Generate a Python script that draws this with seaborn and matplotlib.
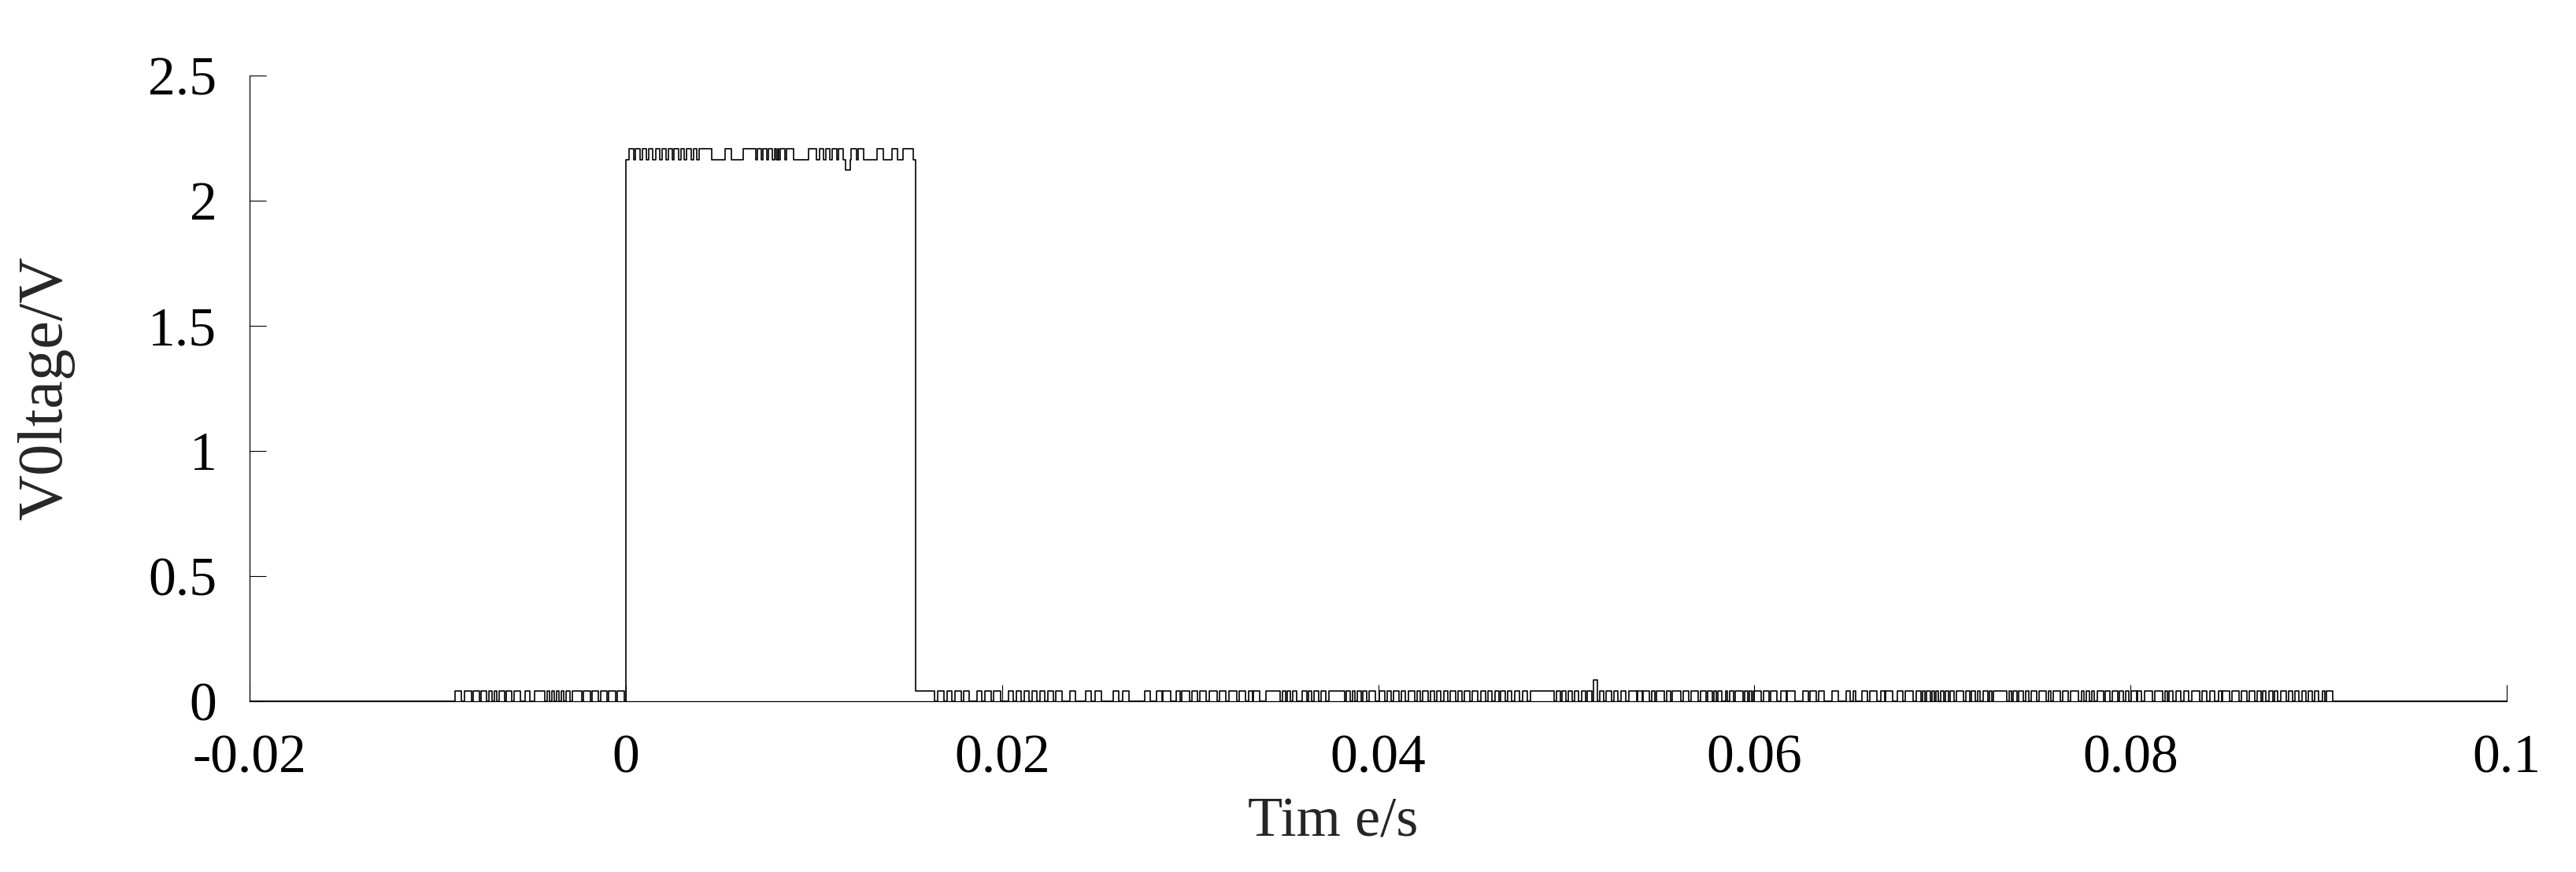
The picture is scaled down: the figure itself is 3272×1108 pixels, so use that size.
import pandas as pd
import matplotlib
matplotlib.use("Agg")
import matplotlib.pyplot as plt
import seaborn as sns

# Values (times in ms, volts)
pre_pulses = [(-9.07, -8.75), (-8.6, -8.2), (-8.1, -7.8), (-7.7, -7.4), (-7.3, -7.1),
              (-7.0, -6.85), (-6.75, -6.45), (-6.35, -6.05), (-5.95, -5.6), (-5.35, -5.1),
              (-4.85, -4.3), (-4.2, -4.05), (-3.95, -3.8), (-3.7, -3.55), (-3.45, -3.3),
              (-3.2, -2.95), (-2.85, -2.35), (-2.25, -1.9), (-1.8, -1.45), (-1.35, -1.0),
              (-0.9, -0.55), (-0.45, -0.1)]

top_hi = [(0.18, 0.40), (0.52, 0.74), (0.88, 1.10), (1.22, 1.44), (1.58, 1.80), (1.92, 2.14),
          (2.28, 2.46), (2.56, 2.80), (2.94, 3.12), (3.22, 3.46), (3.60, 3.78), (3.90, 4.57),
          (5.27, 5.62), (6.25, 6.90), (7.00, 7.20), (7.30, 7.48), (7.58, 7.78), (7.90, 8.00),
          (8.06, 8.12), (8.20, 8.45), (8.55, 8.90), (9.73, 10.15), (10.28, 10.50), (10.62, 10.85),
          (10.97, 11.20), (11.32, 11.55), (11.96, 12.25), (12.35, 12.66), (13.36, 13.70),
          (14.13, 14.45), (14.75, 15.30)]
top_dip = (11.66, 11.94)

low_pulses = [(16.57, 16.92), (17.06, 17.34), (17.48, 17.82), (17.96, 18.24), (18.66, 18.94),
              (19.08, 19.43), (19.57, 19.94), (20.33, 20.61), (20.75, 21.03), (21.17, 21.45),
              (21.59, 21.87), (22.01, 22.29), (22.43, 22.71), (22.85, 23.19), (23.61, 23.89),
              (24.45, 24.73), (24.94, 25.29), (25.91, 26.19), (26.40, 26.75), (27.59, 27.87),
              (28.21, 28.49), (28.56, 28.98), (29.26, 29.47), (29.54, 29.96), (30.10, 30.38),
              (30.52, 30.87), (31.00, 31.42), (31.56, 31.91), (32.05, 32.47), (32.61, 32.96),
              (33.10, 33.31), (33.38, 33.70),
              (34.03, 34.77), (34.91, 35.07), (35.16, 35.32), (35.44, 35.67), (35.95, 36.20),
              (36.30, 36.47), (36.58, 36.82), (36.96, 37.21), (37.37, 38.21), (38.32, 38.53),
              (38.63, 38.77), (38.88, 39.09), (39.19, 39.37), (39.51, 39.86), (40.07, 40.35),
              (40.48, 40.69), (40.83, 41.11), (41.25, 41.46), (41.60, 41.95), (42.06, 42.23),
              (42.37, 42.65), (42.76, 42.99), (43.13, 43.34), (43.48, 43.69), (43.83, 44.11),
              (44.25, 44.46), (44.60, 44.88), (44.99, 45.30), (45.44, 45.71), (45.83, 46.06),
              (46.20, 46.41), (46.52, 46.76), (46.90, 47.11), (47.25, 47.53), (47.67, 47.95),
              (48.09, 49.34), (49.48, 49.69), (49.79, 49.97), (50.11, 50.32), (50.43, 50.67),
              (50.81, 51.01), (51.13, 51.36), (51.78, 51.99), (52.13, 52.41), (52.55, 52.76),
              (52.90, 53.18),
              (53.32, 53.74), (53.81, 54.02), (54.09, 54.43), (54.53, 54.71), (54.78, 55.20),
              (55.34, 55.55), (55.65, 56.11), (56.21, 56.53), (56.62, 57.01), (57.13, 57.43),
              (57.50, 57.78), (57.85, 57.99), (58.06, 58.27), (58.48, 58.55), (58.69, 58.90),
              (59.00, 59.39), (59.50, 59.66), (59.73, 59.87), (59.94, 60.36), (60.50, 60.78),
              (60.85, 61.20), (61.41, 61.69), (61.76, 62.18), (62.59, 62.87), (62.94, 63.29),
              (63.43, 63.71), (64.13, 64.48), (64.89, 65.10), (65.24, 65.38), (65.73, 66.01),
              (66.15, 66.50), (66.71, 66.92), (66.99, 67.34), (67.61, 67.89), (68.03, 68.45),
              (68.59, 68.87), (68.94, 69.08), (69.15, 69.36), (69.43, 69.57), (69.64, 69.78),
              (69.92, 70.06), (70.15, 70.33), (70.40, 70.61), (70.75, 71.10), (71.24, 71.45),
              (71.52, 71.73), (71.87, 72.01), (72.15, 72.43),
              (72.50, 72.64), (72.71, 73.41), (73.54, 73.68), (73.75, 73.96), (74.06, 74.31),
              (74.42, 74.59), (74.70, 75.01), (75.15, 75.50), (75.64, 75.78), (75.87, 76.26),
              (76.38, 76.68), (76.82, 77.24), (77.38, 77.52), (77.63, 77.80), (77.94, 78.08),
              (78.22, 78.57), (78.66, 78.91), (79.05, 79.33), (79.40, 79.61), (79.75, 79.89),
              (80.03, 80.31), (80.38, 80.59), (80.73, 81.15), (81.29, 81.70), (81.84, 81.98),
              (82.05, 82.26), (82.40, 82.68), (82.82, 83.10), (83.24, 83.66), (83.80, 84.07),
              (84.21, 84.49), (84.70, 84.84), (84.91, 85.26), (85.40, 85.75), (85.89, 86.17),
              (86.31, 86.59), (86.73, 86.93), (87.03, 87.21), (87.35, 87.56), (87.67, 87.84),
              (87.98, 88.26), (88.40, 88.61), (88.75, 88.96), (89.10, 89.31), (89.45, 89.65),
              (89.77, 90.00), (90.21, 90.32), (90.42, 90.77)]
spike = (51.46, 51.64)

t_start, t_rise, t_fall, t_shelf_end, t_end = -20.0, 0.0, 15.39, 16.43, 100.0
v_zero, v_low = 0.0, 0.04
v_top, v_top_hi, v_top_dip = 2.163, 2.208, 2.122
v_spike = 0.085

xticks = [-0.02, 0, 0.02, 0.04, 0.06, 0.08, 0.1]
xticklabels = ["-0.02", "0", "0.02", "0.04", "0.06", "0.08", "0.1"]
yticks = [0, 0.5, 1, 1.5, 2, 2.5]
yticklabels = ["0", "0.5", "1", "1.5", "2", "2.5"]

# build the step trace
times = [t_start]
volts = [v_zero]
for a, b in pre_pulses:
    times += [a, b]
    volts += [v_low, v_zero]
times.append(t_rise)
volts.append(v_top)
top_events = sorted([(a, b, v_top_hi) for a, b in top_hi] + [(top_dip[0], top_dip[1], v_top_dip)])
for a, b, lvl in top_events:
    times += [a, b]
    volts += [lvl, v_top]
times += [t_fall, t_shelf_end]
volts += [v_low, v_zero]
low_events = sorted([(a, b, v_low) for a, b in low_pulses] + [(spike[0], spike[1], v_spike)])
for a, b, lvl in low_events:
    times += [a, b]
    volts += [lvl, v_zero]
times.append(t_end)
volts.append(v_zero)

df = pd.DataFrame({"time": [t / 1000 for t in times], "voltage": volts})

sns.set_style("ticks")
plt.rcParams['font.family'] = ['Liberation Serif', 'DejaVu Serif']
plt.rcParams['axes.unicode_minus'] = False

fig = plt.figure(figsize=(32.73, 11.08), dpi=100)
ax = fig.add_axes([0.0969, 0.1958, 0.8759, 0.7176])

sns.lineplot(data=df, x="time", y="voltage", ax=ax, drawstyle="steps-post",
             estimator=None, sort=False, color="black", linewidth=1.2)

ax.set_xlim(-0.02, 0.1)
ax.set_ylim(0, 2.5)
ax.set_xticks(xticks)
ax.set_xticklabels(xticklabels)
ax.set_yticks(yticks)
ax.set_yticklabels(yticklabels)
ax.tick_params(direction="in", length=15, width=0.8, labelsize=50, pad=30, colors="black")

sns.despine(ax=ax)
for s in ["left", "bottom"]:
    ax.spines[s].set_linewidth(0.9)
    ax.spines[s].set_color("black")

ax.set_xlabel("Tim e/s", fontsize=52)
ax.set_ylabel("V0ltage/V", fontsize=58)
ax.xaxis.label.set_verticalalignment("center")
ax.yaxis.label.set_verticalalignment("center")
ax.xaxis.set_label_coords(0.48, -0.194)
ax.yaxis.set_label_coords(-0.0903, 0.5)

fig.savefig("out.png", dpi=100, facecolor="white")
